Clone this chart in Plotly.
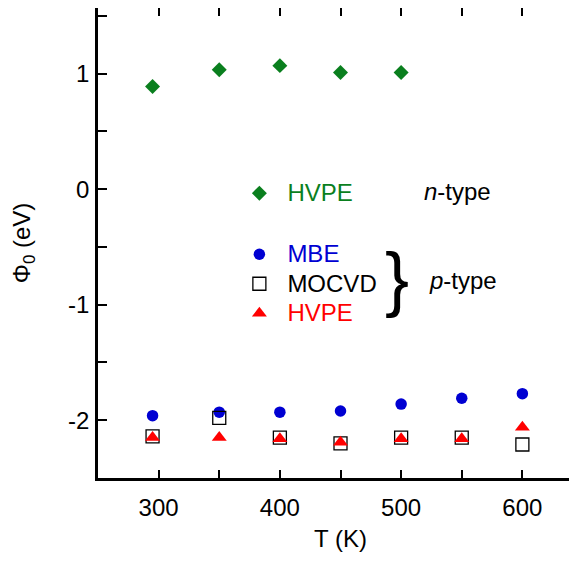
import plotly.graph_objects as go

# ---- data ----
T_n_hvpe = [295, 350, 400, 450, 500]
phi_n_hvpe = [0.89, 1.035, 1.07, 1.01, 1.01]

T_p = [295, 350, 400, 450, 500, 550, 600]
phi_p_mbe = [-1.96, -1.93, -1.93, -1.92, -1.86, -1.81, -1.77]
phi_p_mocvd = [-2.14, -1.98, -2.15, -2.20, -2.15, -2.15, -2.21]
phi_p_hvpe = [-2.15, -2.15, -2.16, -2.19, -2.16, -2.16, -2.06]

x_tick_vals = [300, 400, 500, 600]
x_tick_text = ["300", "400", "500", "600"]
y_tick_vals = [-2, -1, 0, 1]
y_tick_text = ["-2", "-1", "0", "1"]

GREEN = "#0a7f1e"
BLUE = "#0000d2"
RED = "#ff0000"
FONT = "Liberation Sans, Arial, sans-serif"

def lbl(text, color):
    return f'<span style="color:{color};font-size:24px">{text}</span>'

fig = go.Figure()
fig.add_trace(go.Scatter(x=T_n_hvpe, y=phi_n_hvpe, mode="markers",
                         name=lbl("HVPE", GREEN), legendgroup="n",
                         marker=dict(symbol="diamond", size=11.5, color=GREEN)))
fig.add_trace(go.Scatter(x=T_p, y=phi_p_mbe, mode="markers",
                         name=lbl("MBE", BLUE), legendgroup="p",
                         marker=dict(symbol="circle", size=11.5, color=BLUE)))
fig.add_trace(go.Scatter(x=T_p, y=phi_p_mocvd, mode="markers",
                         name=lbl("MOCVD", "#000000"), legendgroup="p",
                         marker=dict(symbol="square-open", size=13, color="#000000",
                                     line=dict(width=1.3, color="#000000"))))
fig.add_trace(go.Scatter(x=T_p, y=phi_p_hvpe, mode="markers",
                         name=lbl("HVPE", RED), legendgroup="p",
                         marker=dict(symbol="triangle-up", size=13, color=RED)))

fig.add_annotation(x=517.6, y=-0.02, xref="x", yref="y", text="<i>n</i>-type",
                   showarrow=False, xanchor="left", yanchor="middle",
                   font=dict(family=FONT, size=24, color="#000"))
fig.add_annotation(x=521.6, y=-0.79, xref="x", yref="y", text="<i>p</i>-type",
                   showarrow=False, xanchor="left", yanchor="middle",
                   font=dict(family=FONT, size=24, color="#000"))
fig.add_annotation(x=496.5, y=-0.77, xref="x", yref="y", text="}",
                   showarrow=False, xanchor="center", yanchor="middle",
                   font=dict(family=FONT, size=72, color="#000"))

fig.update_layout(
    width=577, height=561,
    margin=dict(l=89.5, r=2, t=0, b=91, autoexpand=False),
    paper_bgcolor="white", plot_bgcolor="white",
    font=dict(family=FONT, size=24, color="#000"),
    showlegend=True,
    legend=dict(x=0.275, y=0.648, xanchor="left", yanchor="top",
                bgcolor="rgba(0,0,0,0)", font=dict(size=20.4, family=FONT),
                traceorder="grouped", tracegroupgap=31.5, itemsizing="trace",
                itemwidth=46),
    xaxis=dict(range=[250, 650], showgrid=False, zeroline=False, automargin=False,
               showline=True, linecolor="#000", linewidth=2.5, mirror="ticks",
               ticks="inside", ticklen=8, tickwidth=2, tickcolor="#000",
               tickvals=x_tick_vals, ticktext=x_tick_text,
               minor=dict(dtick=50, tick0=300, ticks="inside", ticklen=8,
                          tickwidth=2, tickcolor="#000", showgrid=False),
               tickfont=dict(size=24), ticklabelstandoff=6,
               title=dict(text="T (K)", font=dict(size=24), standoff=11)),
    yaxis=dict(range=[-2.5, 1.569], showgrid=False, zeroline=False, automargin=False,
               showline=True, linecolor="#000", linewidth=2.5, mirror="ticks",
               ticks="inside", ticklen=9, tickwidth=2, tickcolor="#000",
               tickvals=y_tick_vals, ticktext=y_tick_text,
               minor=dict(dtick=0.5, tick0=0, ticks="inside", ticklen=9,
                          tickwidth=2, tickcolor="#000", showgrid=False),
               tickfont=dict(size=24), ticklabelstandoff=1,
               title=dict(text="Φ<sub>0</sub> (eV)", font=dict(size=24), standoff=33)),
)

fig.write_html("out.html")
